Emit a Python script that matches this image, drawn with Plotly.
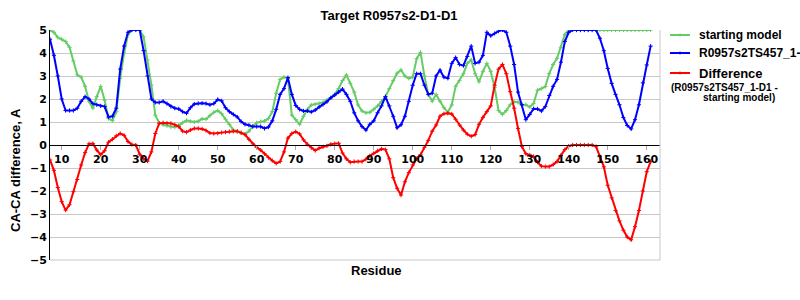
import plotly.graph_objects as go

residues = list(range(7, 162))

starting_model = [
    5.0, 4.9, 4.68, 4.6, 4.5, 4.25, 3.65, 3.05, 2.95, 2.55,
    1.9, 1.6, 2.1, 2.55, 1.95, 1.15, 1.06, 1.45, 2.9, 4.0,
    4.8, 5.0, 5.0, 5.0, 4.7, 3.7, 2.6, 1.3, 0.96, 0.88,
    0.84, 0.78, 0.77, 0.85, 0.97, 1.07, 1.03, 1.0, 1.03, 1.14,
    1.12, 1.28, 1.42, 1.5, 1.36, 1.12, 0.9, 0.66, 0.58, 0.53,
    0.48, 0.6, 0.82, 0.97, 1.02, 1.04, 1.15, 1.45, 2.25, 2.85,
    2.95, 2.9, 1.3, 1.1, 0.9, 1.25, 1.55, 1.74, 1.77, 1.8,
    1.85, 1.95, 2.05, 2.2, 2.45, 2.8, 3.04, 2.68, 2.3, 1.74,
    1.48, 1.4, 1.42, 1.55, 1.7, 1.9, 2.1, 2.45, 2.8, 3.12,
    3.26, 3.0, 2.9, 2.95, 3.75, 4.03, 3.0, 2.2, 1.91, 2.2,
    1.9, 1.62, 1.42, 1.74, 2.55, 2.8, 3.1, 3.55, 3.7, 3.1,
    2.75, 3.2, 3.55, 3.2, 2.5, 1.5, 1.33, 1.5, 1.75, 1.88,
    1.86, 1.74, 1.75, 1.65, 1.81, 2.38, 2.45, 2.54, 3.1, 3.5,
    3.77, 4.25, 4.8, 5.0, 5.0, 5.0, 5.0, 5.0, 5.0, 5.0,
    5.0, 5.0, 5.0, 5.0, 5.0, 5.0, 5.0, 5.0, 5.0, 5.0,
    5.0, 5.0, 5.0, 5.0, 5.0,
]

model_ts457 = [
    4.6, 3.9, 3.0, 2.0, 1.5, 1.5, 1.5, 1.6, 1.9, 2.1,
    2.0, 1.8, 1.75, 1.7, 1.67, 1.22, 1.25, 1.6, 3.3, 4.3,
    4.9, 5.0, 5.0, 5.0, 4.1, 3.0, 2.0, 1.85, 1.85, 1.9,
    1.8, 1.67, 1.6, 1.57, 1.45, 1.38, 1.62, 1.78, 1.81, 1.82,
    1.8, 1.75, 1.8, 1.98, 1.92, 1.62, 1.45, 1.33, 1.22, 1.02,
    0.9, 0.86, 0.8, 0.8, 0.8, 0.72, 0.78, 1.05, 1.55, 2.2,
    2.45, 2.93, 2.2, 1.72, 1.55, 1.48, 1.48, 1.44, 1.52, 1.65,
    1.76, 1.88, 2.05, 2.17, 2.3, 2.43, 2.2, 1.9, 1.4, 1.05,
    0.8, 0.65, 0.9, 1.05, 1.4, 1.7, 2.1, 1.7, 1.25, 0.75,
    0.88, 1.25, 1.9, 2.6, 3.1, 3.1, 2.6, 2.2, 2.25, 3.0,
    3.25, 2.95, 2.9, 3.55, 3.8, 3.5, 3.45, 3.85, 4.3, 3.55,
    3.6, 3.9, 4.9, 4.75, 4.85, 4.95, 5.0, 4.9, 4.3, 3.5,
    2.3, 1.75, 1.1, 1.33, 1.58, 1.57, 1.48, 1.67, 2.15, 2.55,
    2.85, 3.6, 4.5, 4.9, 5.0, 5.0, 5.0, 5.0, 5.0, 5.0,
    5.0, 4.64, 4.1, 3.33, 2.68, 2.2, 1.75, 1.2, 0.85, 0.7,
    1.1, 1.75, 2.7, 3.48, 4.3,
]

difference = [
    -0.65, -1.1, -1.85, -2.46, -2.83, -2.6, -2.03, -1.5, -0.87, -0.33,
    0.05, 0.06, -0.22, -0.42, -0.25, 0.12, 0.25, 0.4, 0.5, 0.42,
    0.15, 0.02, 0.0, -0.4, -0.6, -0.7, -0.3, 0.5, 0.94, 0.97,
    0.95, 0.94, 0.88, 0.8, 0.6, 0.56, 0.65, 0.72, 0.72, 0.7,
    0.63, 0.52, 0.5, 0.51, 0.54, 0.56, 0.58, 0.6, 0.6, 0.53,
    0.45, 0.25, 0.05, -0.1, -0.22, -0.38, -0.55, -0.68, -0.8, -0.72,
    -0.3, 0.3, 0.5, 0.58, 0.48, 0.22, 0.03, -0.12, -0.24, -0.14,
    -0.08, -0.04, 0.03, 0.06, 0.07, -0.35, -0.6, -0.75, -0.72, -0.72,
    -0.72, -0.62, -0.47, -0.36, -0.25, -0.17, -0.2, -0.6, -1.42, -1.88,
    -2.18, -1.6, -1.2, -0.87, -0.6, -0.42, -0.1, 0.2, 0.6, 0.87,
    1.25, 1.36, 1.38, 1.35, 1.12, 0.87, 0.65, 0.47, 0.38, 0.45,
    0.9, 1.2, 1.45, 1.7, 2.6, 3.3, 3.5, 3.1, 2.32, 1.6,
    0.72, -0.07, -0.38, -0.43, -0.5, -0.75, -0.92, -0.94, -0.94, -0.85,
    -0.72, -0.45, -0.2, -0.05, 0.0, 0.0, 0.0, 0.0, 0.0, 0.0,
    -0.07, -0.51, -0.95, -1.75, -2.3, -2.85, -3.3, -3.7, -4.0, -4.12,
    -3.55, -2.85, -2.0, -1.16, -0.72,
]

series_names = ["starting model", "R0957s2TS457_1-D1", "Difference"]
series_colors = ["#66CC66", "#0000FF", "#FF0000"]
difference_note = ["(R0957s2TS457_1-D1 -", "starting model)"]

x_ticks = list(range(10, 161, 10))
y_ticks = list(range(-5, 6))

BOLD = dict(family="Liberation Sans, Arial, sans-serif", weight="bold", color="black")

# plot area in pixels
L, R, T, B = 50, 660, 30, 260
W, H = R - L, B - T


def px(x):
    return (x - L) / W


def py(y):
    return (B - y) / H


fig = go.Figure()
for name, vals, col in zip(series_names, [starting_model, model_ts457, difference], series_colors):
    fig.add_trace(go.Scatter(
        x=residues, y=vals, name=name, mode="lines+markers",
        line=dict(color=col, width=2),
        marker=dict(symbol="cross-thin", size=3, line=dict(color=col, width=1), color=col),
        showlegend=False,
    ))

fig.update_layout(
    width=800, height=300,
    margin=dict(l=L, r=800 - R, t=T, b=300 - B, autoexpand=False),
    paper_bgcolor="white", plot_bgcolor="white",
    title=dict(text="Target R0957s2-D1-D1", x=389 / 800, xanchor="center",
               y=1 - 15 / 300, yanchor="middle", yref="container", xref="container",
               font=dict(size=13, **BOLD)),
    xaxis=dict(range=[7, 163.4], tickvals=x_ticks, ticktext=[str(t) for t in x_ticks],
               anchor="free", position=0.5, showline=True, linecolor="black", linewidth=1,
               ticks="outside", ticklen=4, tickcolor="#AAAAAA",
               showgrid=False, zeroline=False,
               tickfont=dict(family="DejaVu Sans", size=11, weight="bold", color="black")),
    yaxis=dict(range=[-5, 5], tickvals=y_ticks, showgrid=True, gridcolor="#C8C8C8", gridwidth=1,
               zeroline=True, zerolinecolor="black", zerolinewidth=1,
               showline=True, linecolor="black", linewidth=1, ticks="",
               tickfont=dict(family="DejaVu Sans", size=11, weight="bold", color="black")),
    showlegend=False,
)

fig.add_shape(type="line", xref="paper", yref="paper", x0=1, x1=1, y0=0, y1=1,
              line=dict(color="#C8C8C8", width=1))
fig.add_shape(type="line", xref="paper", yref="paper", x0=0, x1=1, y0=0, y1=0,
              line=dict(color="#C8C8C8", width=1), layer="below")

# legend drawn by hand (the reference's legend runs past the right edge)
rows_y = [35, 53, 73]
row_sizes = [12, 12, 13]
for name, col, ry, fs in zip(series_names, series_colors, rows_y, row_sizes):
    fig.add_shape(type="line", xref="paper", yref="paper", x0=px(670), x1=px(690),
                  y0=py(ry), y1=py(ry), line=dict(color=col, width=2))
    fig.add_shape(type="line", xref="paper", yref="paper", x0=px(680), x1=px(680),
                  y0=py(ry - 1.5), y1=py(ry + 1.5), line=dict(color=col, width=1))
    fig.add_annotation(text=name, xref="paper", yref="paper", x=px(697), y=py(ry),
                       xanchor="left", yanchor="middle", showarrow=False,
                       font=dict(size=fs, **BOLD))
fig.add_annotation(text=difference_note[0], xref="paper", yref="paper", x=px(669), y=py(87),
                   xanchor="left", yanchor="middle", showarrow=False,
                   font=dict(size=10, **BOLD))
fig.add_annotation(text=difference_note[1], xref="paper", yref="paper", x=px(701), y=py(97),
                   xanchor="left", yanchor="middle", showarrow=False,
                   font=dict(size=10, **BOLD))

fig.add_annotation(text="Residue", xref="paper", yref="paper", x=px(376),
                   y=py(270), xanchor="center", yanchor="middle", showarrow=False,
                   font=dict(size=13, **BOLD))
fig.add_annotation(text="CA-CA difference, A", xref="paper", yref="paper", x=px(15),
                   y=py(170), xanchor="center", yanchor="middle", textangle=-90,
                   showarrow=False, font=dict(size=13, **BOLD))

fig.write_html("out.html")
